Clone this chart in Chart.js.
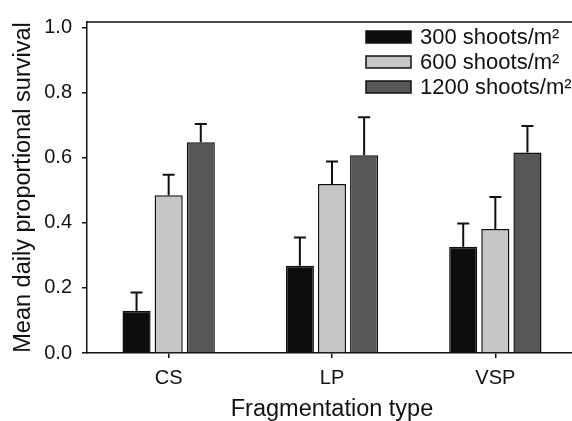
<!DOCTYPE html>
<html>
<head>
<meta charset="utf-8">
<script src="https://cdn.jsdelivr.net/npm/chart.js@4.4.0/dist/chart.umd.min.js"></script>
<style>
  html, body { margin: 0; padding: 0; background: #fff; overflow: hidden; }
  #wrap { width: 577px; height: 421px; }
</style>
</head>
<body>
<div id="wrap"><canvas id="chart"></canvas></div>
<script>
// データ
const categories = ['CS', 'LP', 'VSP'];
const seriesLabels = ['300 shoots/m²', '600 shoots/m²', '1200 shoots/m²'];
const survival300 = [0.13, 0.268, 0.327];
const survival600 = [0.485, 0.52, 0.381];
const survival1200 = [0.648, 0.608, 0.617];
const error300 = [0.056, 0.087, 0.071];
const error600 = [0.063, 0.069, 0.099];
const error1200 = [0.056, 0.117, 0.081];
const yTicks = [0, 0.2, 0.4, 0.6, 0.8, 1.0];

const FONT = "'Liberation Sans', Arial, Helvetica, sans-serif";
const colors = ['#0d0d0d', '#c6c6c6', '#575757'];

// 上側エラーバー
const errorBarPlugin = {
    id: 'errorBars',
    afterDatasetsDraw(chart) {
        const ctx = chart.ctx;
        const yScale = chart.scales.y;
        ctx.save();
        ctx.strokeStyle = '#111';
        ctx.lineWidth = 2;
        chart.data.datasets.forEach((ds, di) => {
            const meta = chart.getDatasetMeta(di);
            meta.data.forEach((bar, i) => {
                const top = yScale.getPixelForValue(ds.data[i] + ds.errors[i]);
                ctx.beginPath();
                ctx.moveTo(bar.x, bar.y);
                ctx.lineTo(bar.x, top);
                ctx.moveTo(bar.x - 6, top);
                ctx.lineTo(bar.x + 6, top);
                ctx.stroke();
            });
        });
        ctx.restore();
    }
};

// 上枠線と凡例
const framePlugin = {
    id: 'frame',
    afterDraw(chart) {
        const ctx = chart.ctx;
        const area = chart.chartArea;
        ctx.save();
        ctx.strokeStyle = '#111';
        ctx.lineWidth = 1.5;
        ctx.beginPath();
        ctx.moveTo(area.left, area.top);
        ctx.lineTo(area.right, area.top);
        ctx.stroke();

        ctx.font = '22px ' + FONT;
        ctx.textBaseline = 'middle';
        chart.data.datasets.forEach((ds, i) => {
            const y = 31 + i * 25;
            ctx.fillStyle = ds.backgroundColor;
            ctx.fillRect(366, y, 45, 12);
            ctx.lineWidth = 1.5;
            ctx.strokeStyle = '#111';
            ctx.strokeRect(366, y, 45, 12);
            ctx.fillStyle = '#111';
            ctx.fillText(ds.label, 420, y + 7);
        });
        ctx.restore();
    }
};

const makeSet = (label, data, errors, color) => ({
    label: label,
    data: data,
    errors: errors,
    backgroundColor: color,
    borderColor: '#111',
    borderWidth: 1.5,
    categoryPercentage: 0.59,
    barPercentage: 0.875
});

new Chart(document.getElementById('chart'), {
    type: 'bar',
    data: {
        labels: categories,
        datasets: [
            makeSet(seriesLabels[0], survival300, error300, colors[0]),
            makeSet(seriesLabels[1], survival600, error600, colors[1]),
            makeSet(seriesLabels[2], survival1200, error1200, colors[2])
        ]
    },
    options: {
        responsive: true,
        maintainAspectRatio: false,
        animation: false,
        layout: { padding: { top: 13, right: 0, left: 0, bottom: 0 } },
        plugins: {
            legend: { display: false },
            tooltip: { enabled: false }
        },
        scales: {
            x: {
                grid: {
                    offset: false,
                    drawOnChartArea: false,
                    drawTicks: true,
                    tickLength: 5,
                    color: '#111',
                    lineWidth: 1.5
                },
                border: { display: true, color: '#111', width: 1.5 },
                ticks: {
                    color: '#111',
                    padding: 8,
                    font: { family: FONT, size: 20 }
                },
                title: {
                    display: true,
                    text: 'Fragmentation type',
                    color: '#111',
                    padding: { top: 0, bottom: 0 },
                    font: { family: FONT, size: 23.5, lineHeight: 1 }
                },
                afterFit(scale) { scale.height = 68; }
            },
            y: {
                min: 0,
                max: 1.018,
                afterBuildTicks(scale) {
                    scale.ticks = yTicks.map(v => ({ value: v }));
                },
                grid: {
                    drawOnChartArea: false,
                    drawTicks: true,
                    tickLength: 5,
                    color: '#111',
                    lineWidth: 1.5
                },
                border: { display: true, color: '#111', width: 1.5 },
                ticks: {
                    color: '#111',
                    padding: 10,
                    font: { family: FONT, size: 20 },
                    callback: v => Number(v).toFixed(1)
                },
                title: {
                    display: true,
                    text: 'Mean daily proportional survival',
                    color: '#111',
                    padding: { top: 12, bottom: 0 },
                    font: { family: FONT, size: 23.5, lineHeight: 1 }
                },
                afterFit(scale) { scale.width = 87; }
            }
        }
    },
    plugins: [errorBarPlugin, framePlugin]
});
</script>
</body>
</html>
